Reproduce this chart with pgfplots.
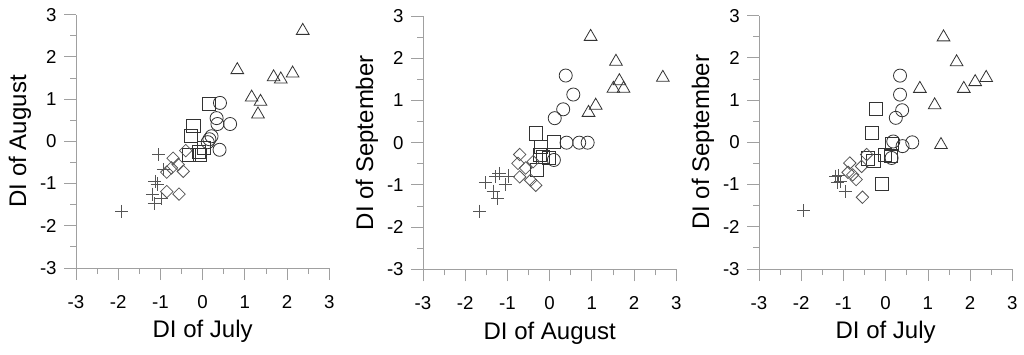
\documentclass[border=0pt]{standalone}
\usepackage{pgfplots}
\pgfplotsset{compat=1.18}
\usepackage{fontspec}
\setmainfont{Liberation Sans}
\definecolor{mk}{HTML}{333333}
\definecolor{mk2}{HTML}{555555}
\definecolor{ax}{HTML}{A0A0A0}
\pgfplotsset{
  dipanel/.style={
    scale only axis, width=190pt, height=190pt,
    xmin=-3, xmax=3, ymin=-3, ymax=3,
    axis x line=bottom, axis y line=left,
    axis line style={-, draw=ax, line width=0.6pt},
    every tick/.style={draw=ax, line width=0.6pt},
    tick align=outside,
    major tick length=9pt, minor tick length=4.5pt,
    xtick={-3,-2,-1,0,1,2,3}, ytick={-3,-2,-1,0,1,2,3},
    xticklabels={-3,-2,-1,0,1,2,3}, yticklabels={-3,-2,-1,0,1,2,3},
    minor tick num=1,
    tick label style={font=\fontsize{14}{16}\selectfont, text=black},
    xticklabel style={yshift=-8pt},
    yticklabel style={xshift=-2pt},
    label style={font=\fontsize{18}{21}\selectfont},
    xlabel style={at={(axis description cs:0.5,-0.276)}, anchor=base},
    ylabel style={at={(axis description cs:-0.197,0.5)}, anchor=base},
    clip=false,
  },
  tri/.style={only marks, mark=triangle, mark size=5.5pt, color=mk, mark options={line width=0.6pt}},
  cir/.style={only marks, mark=o, mark size=4.9pt, color=mk, mark options={line width=0.6pt}},
  sqr/.style={only marks, mark=square, mark size=4.9pt, color=mk, mark options={line width=0.6pt}},
  dia/.style={only marks, mark=square, mark size=3.3pt, color=mk2, mark options={rotate=45, line width=0.6pt}},
  pls/.style={only marks, mark=+, mark size=4.9pt, color=mk2, mark options={line width=0.6pt}},
}
\begin{document}
\begin{tikzpicture}
\useasboundingbox (0,0) rectangle (768pt,265.5pt);
% Panel 1
\begin{axis}[dipanel, at={(57pt,64.5pt)}, anchor=south west,
  xlabel={DI of July}, ylabel={DI of August}]
\addplot[tri] coordinates {(2.37,2.62) (0.82,1.69) (1.68,1.52) (1.85,1.47) (2.13,1.61) (1.16,1.04) (1.37,0.94) (1.31,0.64)};
\addplot[cir] coordinates {(0.41,0.91) (0.33,0.55) (0.35,0.41) (0.65,0.41) (0.21,0.12) (0.16,0.05) (0.12,-0.02) (0.40,-0.20)};
\addplot[sqr] coordinates {(0.15,0.89) (-0.22,0.36) (-0.28,0.13) (-0.32,-0.33) (-0.06,-0.33) (0.02,-0.16) (-0.10,-0.25)};
\addplot[dia] coordinates {(-0.40,-0.22) (-0.70,-0.40) (-0.58,-0.55) (-0.74,-0.63) (-0.85,-0.73) (-0.46,-0.71) (-0.85,-1.19) (-0.56,-1.25)};
\addplot[pls] coordinates {(-1.04,-0.32) (-0.93,-0.67) (-1.13,-0.95) (-1.08,-1.01) (-1.19,-1.25) (-0.97,-1.35) (-1.15,-1.48) (-1.92,-1.66)};
\end{axis}
% Panel 2
\begin{axis}[dipanel, at={(317.25pt,63.5pt)}, anchor=south west,
  xlabel={DI of August}, ylabel={DI of September}]
\addplot[tri] coordinates {(0.97,2.51) (1.57,1.92) (2.68,1.54) (1.65,1.46) (1.51,1.28) (1.75,1.28) (1.09,0.88) (0.92,0.71)};
\addplot[cir] coordinates {(0.38,1.59) (0.56,1.14) (0.32,0.79) (0.12,0.58) (0.40,0.0) (0.70,0.0) (0.90,0.0) (0.10,-0.41)};
\addplot[sqr] coordinates {(-0.33,0.22) (0.10,0.01) (-0.21,-0.10) (-0.23,-0.29) (-0.17,-0.33) (-0.02,-0.36) (-0.31,-0.65)};
\addplot[dia] coordinates {(-0.71,-0.28) (-0.75,-0.49) (-0.57,-0.60) (-0.39,-0.45) (-0.71,-0.81) (-0.45,-0.89) (-0.33,-1.01)};
\addplot[pls] coordinates {(-1.20,-0.73) (-0.97,-0.79) (-1.28,-0.81) (-1.52,-0.95) (-1.05,-0.99) (-1.34,-1.15) (-1.24,-1.31) (-1.66,-1.62)};
\end{axis}
% Panel 3
\begin{axis}[dipanel, at={(569.25pt,63.75pt)}, anchor=south west,
  xlabel={DI of July}, ylabel={DI of September}]
\addplot[tri] coordinates {(1.37,2.49) (1.68,1.90) (2.38,1.53) (2.12,1.43) (0.81,1.27) (1.85,1.27) (1.16,0.88) (1.31,-0.06)};
\addplot[cir] coordinates {(0.34,1.58) (0.34,1.13) (0.39,0.76) (0.24,0.58) (0.18,0.02) (0.63,0.0) (0.40,-0.09) (0.14,-0.37)};
\addplot[sqr] coordinates {(-0.24,0.80) (-0.32,0.22) (0.14,-0.03) (-0.02,-0.29) (-0.29,-0.45) (-0.09,-0.99) (0.12,-0.33) (-0.42,-0.38)};
\addplot[dia] coordinates {(-0.45,-0.29) (-0.85,-0.49) (-0.57,-0.57) (-0.89,-0.71) (-0.78,-0.77) (-0.70,-0.88) (-0.55,-1.30)};
\addplot[pls] coordinates {(-1.18,-0.80) (-1.12,-0.79) (-1.08,-0.92) (-1.15,-0.95) (-0.96,-1.16) (-1.94,-1.62)};
\end{axis}
\end{tikzpicture}
\end{document}
